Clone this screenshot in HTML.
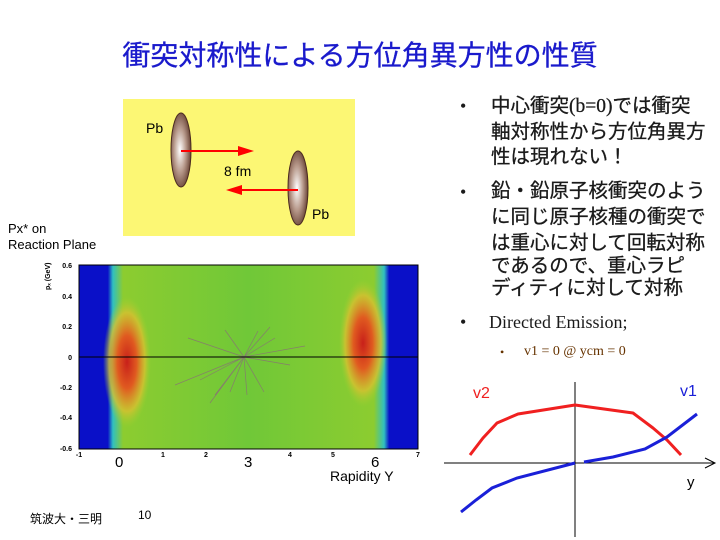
<!DOCTYPE html>
<html><head><meta charset="utf-8"><style>
body{margin:0;width:720px;height:540px;background:#fff;position:relative;overflow:hidden;font-family:"Liberation Sans","Noto Sans CJK JP",sans-serif}
.a{position:absolute;white-space:nowrap}
.j{font-size:19.5px;color:#1a1a1a;line-height:1;-webkit-text-stroke:0.3px #1a1a1a}
.b{font-size:18px;color:#1a1a1a;font-family:"Liberation Serif",serif}
</style></head><body>
<div class="a" style="left:0;width:720px;top:34px;text-align:center;font-size:28px;color:#1a1acc;-webkit-text-stroke:0.3px #1a1acc">衝突対称性による方位角異方性の性質</div>

<div class="a b" style="left:460px;top:96px">•</div>
<div class="a j" style="left:491px;top:97px">中心衝突<span style="font-family:'Liberation Serif',serif">(b=0)</span>では衝突</div>
<div class="a j" style="left:491px;top:123px">軸対称性から方位角異方</div>
<div class="a j" style="left:491px;top:148px">性は現れない！</div>
<div class="a b" style="left:460px;top:182px">•</div>
<div class="a j" style="left:491px;top:182px">鉛・鉛原子核衝突のよう</div>
<div class="a j" style="left:491px;top:208px">に同じ原子核種の衝突で</div>
<div class="a j" style="left:491px;top:234px">は重心に対して回転対称</div>
<div class="a j" style="left:491px;top:257px">であるので、重心ラピ</div>
<div class="a j" style="left:491px;top:279px">ディティに対して対称</div>
<div class="a b" style="left:460px;top:312px">•</div>
<div class="a" style="left:489px;top:312px;font-size:18px;font-family:'Liberation Serif',serif;color:#1a1a1a">Directed Emission;</div>
<div class="a" style="left:500px;top:345px;font-size:12px;color:#663300;font-family:'Liberation Serif',serif">•</div>
<div class="a" style="left:524px;top:344px;font-size:14px;color:#663300;font-family:'Liberation Serif',serif">v1 = 0 @ ycm = 0</div>

<div class="a" style="left:8px;top:221px;font-size:13px;line-height:16px;color:#000">Px* on<br>Reaction Plane</div>
<div class="a" style="left:30px;top:510px;font-size:12px;color:#000">筑波大・三明</div>
<div class="a" style="left:138px;top:508px;font-size:12px;color:#000">10</div>

<svg class="a" style="left:0;top:0" width="720" height="540">
<defs>
<radialGradient id="nu" cx="0.45" cy="0.5" r="0.6"><stop offset="0" stop-color="#fff"/><stop offset="0.5" stop-color="#b89a8c"/><stop offset="1" stop-color="#5a3326"/></radialGradient>
<linearGradient id="hx" x1="0" x2="1"><stop offset="0" stop-color="#0a10c8"/><stop offset="0.085" stop-color="#0a10c8"/><stop offset="0.1" stop-color="#30c0c0"/><stop offset="0.13" stop-color="#8ccc30"/><stop offset="0.5" stop-color="#70c838"/><stop offset="0.87" stop-color="#8ccc30"/><stop offset="0.9" stop-color="#30c0c0"/><stop offset="0.915" stop-color="#0a10c8"/><stop offset="1" stop-color="#0a10c8"/></linearGradient>
<radialGradient id="bl"><stop offset="0" stop-color="#c8201a"/><stop offset="0.4" stop-color="#e05a20"/><stop offset="0.75" stop-color="#d8c030" stop-opacity="0.8"/><stop offset="1" stop-color="#a0d030" stop-opacity="0"/></radialGradient>
</defs>
<rect x="123" y="99" width="232" height="137" fill="#fcf774"/>
<ellipse cx="181" cy="150" rx="10" ry="37" fill="url(#nu)" stroke="#4a2a20"/>
<ellipse cx="298" cy="188" rx="10" ry="37" fill="url(#nu)" stroke="#4a2a20"/>
<line x1="181" y1="151" x2="240" y2="151" stroke="#f00" stroke-width="2"/><polygon points="238,146 254,151 238,156" fill="#f00"/>
<line x1="298" y1="190" x2="240" y2="190" stroke="#f00" stroke-width="2"/><polygon points="242,185 226,190 242,195" fill="#f00"/>
<text x="146" y="133" font-size="14" font-family="Liberation Sans">Pb</text>
<text x="312" y="219" font-size="14" font-family="Liberation Sans">Pb</text>
<text x="224" y="176" font-size="14" font-family="Liberation Sans">8  fm</text>

<rect x="79" y="265" width="339" height="184" fill="url(#hx)"/>
<ellipse cx="127" cy="362" rx="24" ry="66" fill="url(#bl)"/>
<ellipse cx="363" cy="343" rx="24" ry="64" fill="url(#bl)"/>
<g stroke="#8a6a7a" stroke-width="0.7" fill="none" opacity="0.8">
<path d="M244 357L210 403M244 357L258 331M244 357L270 327M244 357L305 346M244 357L290 365M244 357L230 392M244 357L264 392M244 357L200 380M244 357L175 385M244 357L225 330M244 357L275 338M244 357L188 338M244 357L247 395M244 357L215 395"/>
</g>
<line x1="79" y1="357" x2="418" y2="357" stroke="#000" stroke-width="1"/>
<rect x="79" y="265" width="339" height="184" fill="none" stroke="#000"/>
<g font-size="7" font-weight="bold" font-family="Liberation Sans" text-anchor="end">
<text x="72" y="268">0.6</text><text x="72" y="299">0.4</text><text x="72" y="329">0.2</text><text x="72" y="360">0</text><text x="72" y="390">-0.2</text><text x="72" y="420">-0.4</text><text x="72" y="451">-0.6</text>
</g>
<g font-size="7" font-weight="bold" font-family="Liberation Sans" text-anchor="middle">
<text x="79" y="457">-1</text><text x="163" y="457">1</text><text x="206" y="457">2</text><text x="290" y="457">4</text><text x="333" y="457">5</text><text x="418" y="457">7</text>
</g>
<text x="50" y="290" font-size="7" font-weight="bold" transform="rotate(-90 50 290)">p&#x2093; (GeV)</text>
<g font-size="15" font-family="Liberation Sans"><text x="115" y="467">0</text><text x="244" y="467">3</text><text x="371" y="467">6</text></g>
<text x="330" y="481" font-size="14" font-family="Liberation Sans">Rapidity Y</text>

<line x1="575" y1="382" x2="575" y2="537" stroke="#000"/>
<line x1="444" y1="463" x2="715" y2="463" stroke="#000"/>
<polyline points="705,458 715,463 705,468" fill="none" stroke="#000"/>
<polyline points="470,455 483,438 497,423 518,414 575,405 633,413 653,428 667,440 681,455" fill="none" stroke="#f02020" stroke-width="3" stroke-linejoin="round"/>
<polyline points="461,512 476,500 492,488 517,478 575,463" fill="none" stroke="#1a20d8" stroke-width="3"/>
<polyline points="584,462 613,457 645,449 667,437 697,414" fill="none" stroke="#1a20d8" stroke-width="3"/>
<text x="473" y="398" font-size="16" fill="#f02020" font-family="Liberation Sans">v2</text>
<text x="680" y="396" font-size="16" fill="#1a20d8" font-family="Liberation Sans">v1</text>
<text x="687" y="487" font-size="15" font-family="Liberation Sans">y</text>
</svg>
</body></html>
